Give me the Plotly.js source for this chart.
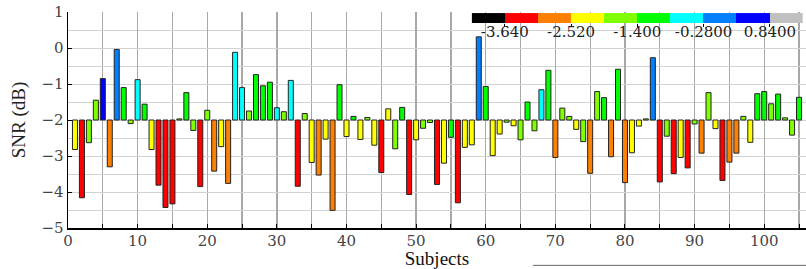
<!DOCTYPE html>
<html><head><meta charset="utf-8">
<script src="https://cdn.plot.ly/plotly-3.0.1.min.js"></script>
<style>html,body{margin:0;padding:0;background:#fff}</style>
</head><body><div id="chart" style="width:806px;height:269px"></div>
<script>
// Subject numbers and SNR values (dB)
const subjects = Array.from({length:105},(_,i)=>i+1);
const snr = [
-2.82,-4.16,-2.63,-1.45,-0.85,-3.30,-0.04,-1.10,-2.10,-0.88,
-1.56,-2.82,-3.81,-4.43,-4.33,-1.97,-1.24,-2.29,-3.85,-1.73,
-3.42,-2.74,-3.76,-0.12,-1.10,-1.75,-0.74,-1.05,-0.95,-1.66,
-1.77,-0.90,-3.84,-1.82,-3.18,-3.53,-2.53,-4.51,-1.02,-2.46,
-1.90,-2.54,-1.93,-2.70,-3.46,-1.69,-2.80,-1.65,-4.07,-2.55,
-2.23,-2.07,-3.79,-3.20,-2.48,-4.30,-2.76,-2.69,0.31,-1.07,
-2.99,-2.39,-2.06,-2.16,-2.55,-1.50,-2.30,-1.16,-0.62,-3.04,
-1.67,-1.90,-2.26,-2.60,-3.48,-1.21,-1.38,-3.02,-0.59,-3.74,
-2.91,-2.17,-1.97,-0.27,-3.72,-2.45,-3.49,-3.04,-3.33,-2.11,
-2.92,-1.24,-2.24,-3.68,-3.17,-2.92,-1.90,-2.62,-1.27,-1.21,
-1.55,-1.28,-1.94,-2.42,-1.37];
// colour class of each bar (index into legend classes)
const level = [
3,1,4,4,8,2,7,5,4,6, 5,3,1,1,1,4,5,4,1,4,
2,3,2,6,6,4,5,5,5,6, 4,6,1,4,3,2,3,2,5,3,
5,3,4,3,1,3,4,5,1,3, 4,4,1,3,5,1,3,3,7,5,
3,3,4,3,4,5,4,6,5,2, 4,4,3,4,2,4,5,2,5,2,
3,3,4,7,1,4,1,3,1,4, 2,4,3,1,2,2,4,3,5,5,
4,5,4,4,5];
const baseline = -2;
// legend classes
const legendClasses = [0,1,2,3,4,5,6,7,8,9];
const legendColors = ['#000000','#ff0000','#ff8000','#ffff00','#80ff00','#00ff00','#00ffff','#0080ff','#0000ff','#c0c0c0'];
const legendTickPos = [0.5,2.5,4.5,6.5,8.5];
const legendTickText = ['-3.640','-2.520','-1.400','-0.2800','0.8400'];

const TITLEFONT = 'Liberation Serif';
const TICKFONT = 'DejaVu Serif';

const bars = {
  type:'bar', x:subjects, y:snr.map(v=>v-baseline), base:baseline,
  width:0.72,
  marker:{color:level.map(l=>legendColors[l]), line:{color:'#222',width:1}},
  hoverinfo:'skip', showlegend:false
};
const cs = [];
legendColors.forEach((c,i)=>{cs.push([i/9,c]);});
const legend = {
  type:'heatmap', z:[legendClasses], x:legendClasses, y:[0],
  xaxis:'x2', yaxis:'y2', colorscale:cs, zmin:0, zmax:9, showscale:false, hoverinfo:'skip'
};

const layout = {
  width:806, height:269,
  margin:{l:68,r:0,t:12,b:41},
  paper_bgcolor:'#fff', plot_bgcolor:'#fff',
  font:{family:TITLEFONT, size:15, color:'#222'},
  bargap:0,
  xaxis:{
    range:[0,106], dtick:10, tick0:0,
    showgrid:true, gridcolor:'#a8a8a8', gridwidth:1.3,
    minor:{dtick:5, showgrid:true, gridcolor:'#a8a8a8', gridwidth:1.3, ticks:'inside', ticklen:4, tickcolor:'#000'},
    ticks:'inside', ticklen:4, tickcolor:'#000',
    showline:true, linecolor:'#000', linewidth:1.5,
    zeroline:false,
    tickfont:{family:TICKFONT,size:15,color:'#444'},
    ticklabelstandoff:-2,
    title:{text:'Subjects', font:{family:TITLEFONT,size:19,color:'#111'}, standoff:0},
    automargin:false
  },
  yaxis:{
    range:[-5,1], dtick:1,
    showgrid:true, gridcolor:'#d2d2d2', gridwidth:1,
    minor:{dtick:0.5, showgrid:true, gridcolor:'#d2d2d2', gridwidth:1},
    ticks:'inside', ticklen:4, tickcolor:'#000',
    showline:true, linecolor:'#000', linewidth:1.5,
    zeroline:false,
    tickfont:{family:TICKFONT,size:15,color:'#444'},
    title:{text:'SNR (dB)', font:{family:TITLEFONT,size:19,color:'#222'}, standoff:10},
    automargin:false
  },
  xaxis2:{
    domain:[0.547,0.996], anchor:'y2', range:[-0.5,9.5],
    tickvals:legendTickPos, ticktext:legendTickText,
    ticks:'outside', ticklen:3, tickcolor:'#000',
    ticklabelstandoff:-8,
    showgrid:false, zeroline:false, showline:false,
    tickfont:{family:TICKFONT,size:15,color:'#222'}
  },
  yaxis2:{
    domain:[0.949,0.995], anchor:'x2', range:[-0.5,0.5],
    showticklabels:false, showgrid:false, zeroline:false, ticks:''
  },
  shapes:[
    {type:'line', xref:'paper', yref:'paper', x0:0.63, x1:1, y0:-0.173, y1:-0.173, line:{color:'#666',width:1}}
  ]
};
Plotly.newPlot('chart',[bars,legend],layout,{staticPlot:true,displayModeBar:false});
</script></body></html>
